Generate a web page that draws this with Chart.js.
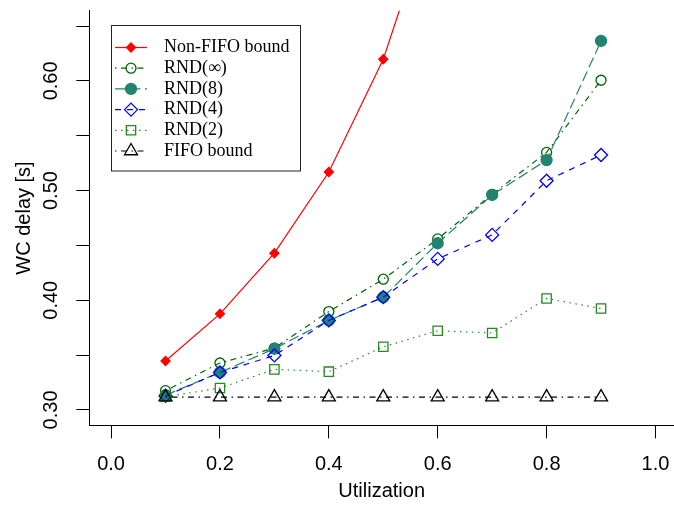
<!DOCTYPE html>
<html>
<head>
<meta charset="utf-8">
<script src="https://cdn.jsdelivr.net/npm/chart.js@4.4.1/dist/chart.umd.min.js"></script>
<style>
  html, body { margin: 0; padding: 0; background: #fff; }
  #wrap { width: 674px; height: 506px; }
</style>
</head>
<body>
<div id="wrap"><canvas id="graph"></canvas></div>
<script>
// utilization values on the x axis
const utilization = [0.1, 0.2, 0.3, 0.4, 0.5, 0.6, 0.7, 0.8, 0.9];

// WC delay [s] per series
const nonFifo = [0.3446, 0.3876, 0.4429, 0.5169, 0.6197, 0.770];
const rndInf  = [0.3176, 0.3428, 0.3564, 0.3897, 0.4192, 0.4559, 0.4966, 0.5348, 0.6006];
const rnd8    = [0.3135, 0.3342, 0.3558, 0.3816, 0.4028, 0.4520, 0.4960, 0.5278, 0.6364];
const rnd4    = [0.3128, 0.3342, 0.3497, 0.3816, 0.4028, 0.4377, 0.4596, 0.5090, 0.5324];
const rnd2    = [0.3120, 0.3200, 0.3370, 0.3349, 0.3576, 0.3722, 0.3701, 0.4016, 0.3925];
const fifo    = [0.3117, 0.3117, 0.3117, 0.3117, 0.3117, 0.3117, 0.3117, 0.3117, 0.3117];

const seriesNames = ["Non-FIFO bound", "RND(\u221E)", "RND(8)", "RND(4)", "RND(2)", "FIFO bound"];
const xTickValues = [0, 0.2, 0.4, 0.6, 0.8, 1.0];
const yTickLabels = ["0.30", "0.40", "0.50", "0.60"];

function pts(ys) {
    return ys.map((y, i) => ({x: utilization[i], y: y}));
}

const styles = [
    {color: "#ff0000", fill: "#ff0000", dash: [], point: "rectRot", r: 4.5},
    {color: "#006400", fill: "rgba(0,0,0,0)", dash: [1.5, 4.5, 6, 4.5], point: "circle", r: 5},
    {color: "#22836f", fill: "#22836f", dash: [10.5, 4.5], point: "circle", r: 5.5},
    {color: "#0000ff", fill: "rgba(0,0,0,0)", dash: [6, 6], point: "rectRot", r: 6.5},
    {color: "#228b22", fill: "rgba(0,0,0,0)", dash: [1.5, 4.5], point: "rect", r: 6.6},
    {color: "#000000", fill: "rgba(0,0,0,0)", dash: [1.5, 4.5, 6, 4.5], point: "triangle", r: 7.5}
];
const values = [nonFifo, rndInf, rnd8, rnd4, rnd2, fifo];

const datasets = values.map((v, i) => ({
    label: seriesNames[i],
    data: pts(v),
    borderColor: styles[i].color,
    backgroundColor: styles[i].fill,
    borderWidth: 1.2,
    borderDash: styles[i].dash,
    pointStyle: styles[i].point,
    pointRadius: styles[i].r,
    pointBorderColor: styles[i].color,
    pointBackgroundColor: styles[i].fill,
    pointBorderWidth: 1.3,
    fill: false,
    tension: 0,
    order: 5 - i
}));

// R style legend box in the top left of the plot
const legendBox = {
    id: "legendBox",
    afterDraw(chart) {
        const ctx = chart.ctx;
        const left = 111.5, top = 25.5, right = 300.5, bottom = 171;
        ctx.save();
        ctx.fillStyle = "#fff";
        ctx.fillRect(left, top, right - left, bottom - top);
        ctx.strokeStyle = "#222";
        ctx.lineWidth = 1;
        ctx.setLineDash([]);
        ctx.strokeRect(left, top, right - left, bottom - top);
        ctx.font = "18px 'Liberation Serif', serif";
        ctx.textBaseline = "middle";
        ctx.textAlign = "left";
        chart.data.datasets.forEach((ds, i) => {
            const y = 47.5 + i * 20.7;
            ctx.beginPath();
            ctx.strokeStyle = ds.borderColor;
            ctx.lineWidth = ds.borderWidth;
            ctx.setLineDash(ds.borderDash);
            ctx.moveTo(115, y);
            ctx.lineTo(147, y);
            ctx.stroke();
            ctx.setLineDash([]);
            ctx.lineWidth = ds.pointBorderWidth;
            ctx.strokeStyle = ds.pointBorderColor;
            ctx.fillStyle = ds.pointBackgroundColor;
            Chart.helpers.drawPoint(ctx, {pointStyle: ds.pointStyle, radius: ds.pointRadius, borderWidth: ds.pointBorderWidth}, 131, y);
            ctx.fillStyle = "#000";
            ctx.fillText(ds.label, 164, y);
        });
        ctx.restore();
    }
};

new Chart("graph", {
    type: "line",
    data: { datasets: datasets },
    plugins: [legendBox],
    options: {
        responsive: true,
        maintainAspectRatio: false,
        animation: false,
        layout: { autoPadding: false, padding: { top: 10.7, right: 0, left: 0, bottom: 0 } },
        plugins: { legend: { display: false }, tooltip: { enabled: false } },
        scales: {
            x: {
                type: "linear",
                min: -0.04,
                max: 1.034,
                afterFit(scale) { scale.height = 80.7; scale.paddingLeft = 0; scale.paddingRight = 0; },
                afterBuildTicks(scale) { scale.ticks = xTickValues.map(v => ({value: v})); },
                border: { display: true, color: "#000", width: 1 },
                grid: { drawOnChartArea: false, drawTicks: true, tickLength: 13, color: "#000", tickColor: "#000" },
                ticks: {
                    color: "#000",
                    padding: 14,
                    maxRotation: 0,
                    font: { family: "'Liberation Sans', Arial, sans-serif", size: 20 },
                    callback: v => v.toFixed(1)
                },
                title: {
                    display: true,
                    text: "Utilization",
                    color: "#000",
                    padding: { top: 0, bottom: 3 },
                    font: { family: "'Liberation Sans', Arial, sans-serif", size: 20 }
                }
            },
            y: {
                type: "linear",
                min: 0.286,
                max: 0.664,
                afterFit(scale) { scale.width = 89.3; scale.paddingTop = 0; scale.paddingBottom = 0; },
                border: { display: true, color: "#000", width: 1 },
                grid: { drawOnChartArea: false, drawTicks: true, tickLength: 13, color: "#000", tickColor: "#000" },
                ticks: {
                    stepSize: 0.05,
                    includeBounds: false,
                    color: "#000",
                    padding: 5,
                    minRotation: 90,
                    maxRotation: 90,
                    crossAlign: "center",
                    font: { family: "'Liberation Sans', Arial, sans-serif", size: 20 },
                    callback: v => {
                        const s = v.toFixed(2);
                        return yTickLabels.includes(s) ? s : "";
                    }
                },
                title: {
                    display: true,
                    text: "WC delay [s]",
                    color: "#000",
                    padding: { top: 12, bottom: 0 },
                    font: { family: "'Liberation Sans', Arial, sans-serif", size: 20 }
                }
            }
        }
    }
});
</script>
</body>
</html>
